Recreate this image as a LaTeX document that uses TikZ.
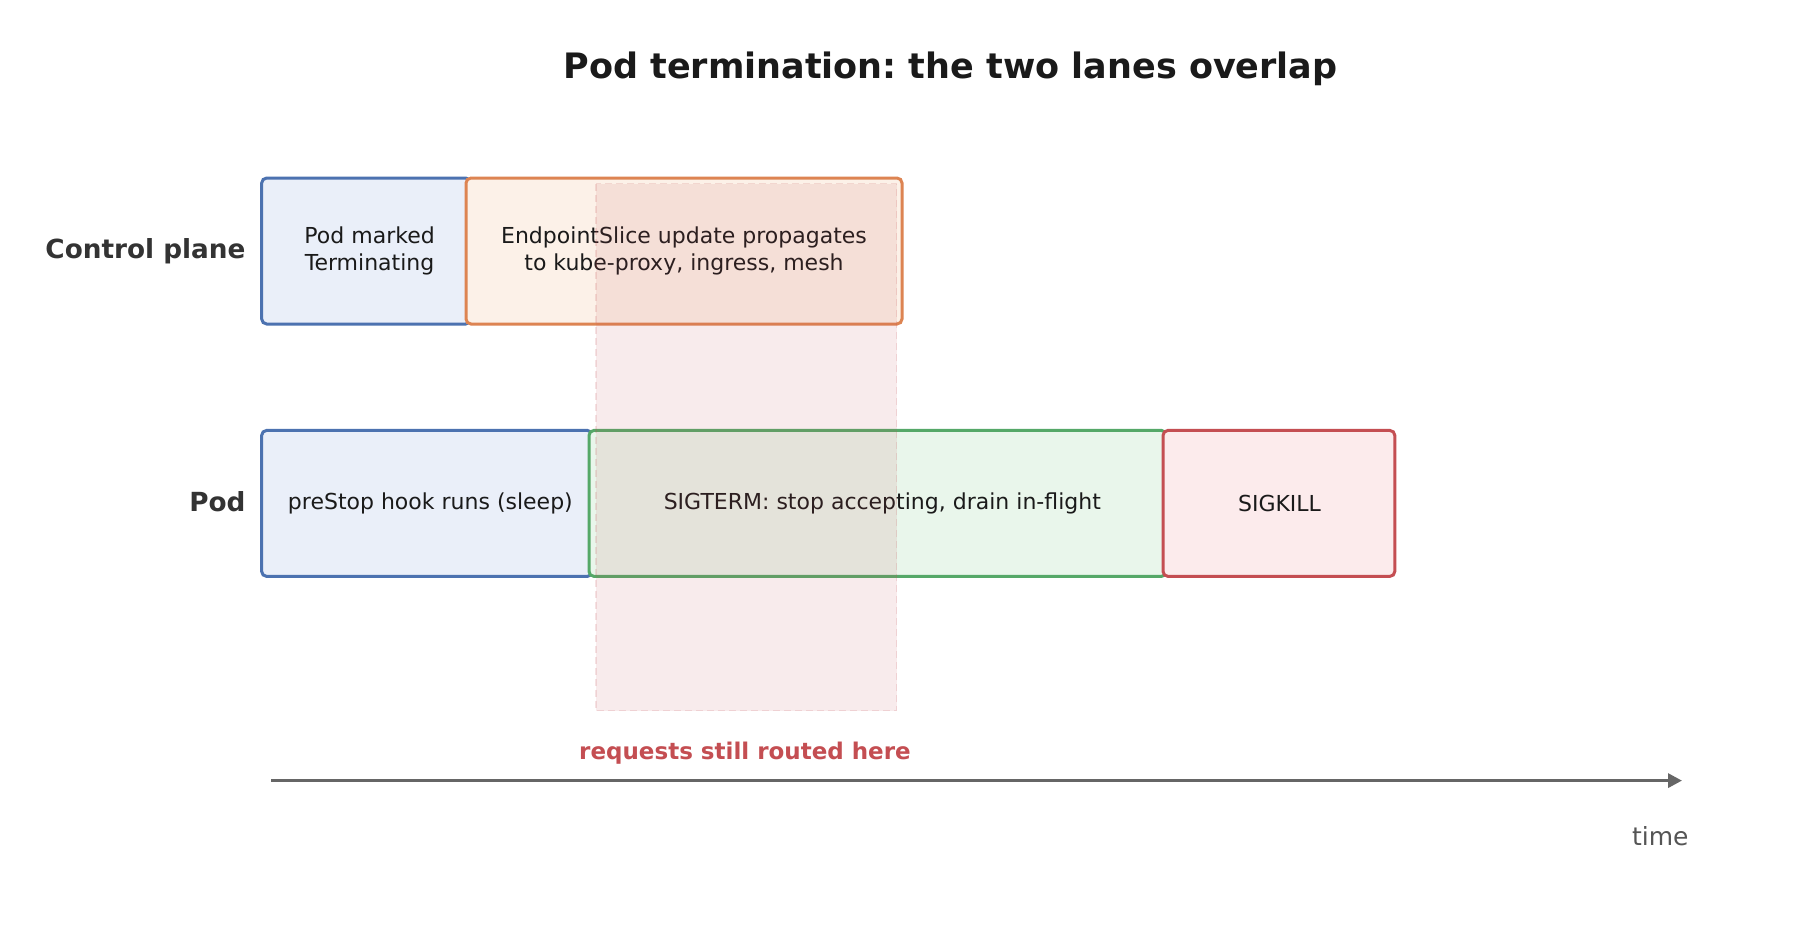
\documentclass[tikz,border=0pt]{standalone}
\usepackage{fontspec}
\setmainfont{DejaVu Sans}
\usetikzlibrary{arrows.meta}
\definecolor{bblue}{HTML}{4C72B0}
\definecolor{fblue}{HTML}{EAEFF9}
\definecolor{borange}{HTML}{DD8452}
\definecolor{forange}{HTML}{FCF1E8}
\definecolor{bgreen}{HTML}{55A868}
\definecolor{fgreen}{HTML}{E9F6EB}
\definecolor{bred}{HTML}{C44E52}
\definecolor{fred}{HTML}{FCEBEC}
\definecolor{txt}{HTML}{1A1A1A}
\definecolor{lbl}{HTML}{333333}
\definecolor{axisgray}{HTML}{666666}
\definecolor{timegray}{HTML}{555555}
\frenchspacing
\tikzset{
  phase/.style={draw, line width=3pt, rounded corners=5pt, inner sep=0pt,
    minimum height=146pt},
  phasetext/.style={align=center, text=txt, inner sep=0pt,
    font=\fontsize{22}{27.7}\selectfont},
  lanelabel/.style={anchor=east, text=lbl, inner sep=0pt,
    font=\fontsize{26.3}{30}\selectfont\bfseries},
  axisline/.style={draw=axisgray, line width=3.2pt,
    -{Triangle[length=14pt,width=14pt]}}
}
\begin{document}
\begin{tikzpicture}[x=1pt,y=-1pt]
\useasboundingbox (0,0) rectangle (1800,930);
\fill[white] (0,0) rectangle (1800,930);

\node[text=txt, font=\fontsize{35}{40}\selectfont\bfseries] (title) at (950.5,68.8) {Pod termination: the two lanes overlap};

\node[lanelabel] (cp) at (245.7,251) {Control plane};
\node[lanelabel] (podl) at (245.7,502) {Pod};

\node[phase, draw=bblue, fill=fblue, minimum width=209pt] (marked) at (366.2,251) {};
\node[phasetext] (markedtxt) at ([xshift=3.4pt]marked.center) {Pod marked\\Terminating};
\node[phase, draw=borange, fill=forange, minimum width=436pt] (eps) at (684,251) {};
\node[phasetext] (epstxt) at (eps.center) {EndpointSlice update propagates\\to kube-proxy, ingress, mesh};

\node[phase, draw=bblue, fill=fblue, minimum width=330.7pt] (prestop) at (427,503.4) {};
\node[phasetext] (prestoptxt) at ([xshift=3.4pt]prestop.center) {preStop hook runs (sleep)};
\node[phase, draw=bgreen, fill=fgreen, minimum width=577.4pt] (sigterm) at (877.7,503.4) {};
\node[phasetext] (sigtermtxt) at ([xshift=4.6pt]sigterm.center) {SIGTERM: stop accepting, drain in-flight};
\node[phase, draw=bred, fill=fred, minimum width=231.8pt] (sigkill) at (1278.9,503.4) {};
\node[phasetext] (sigkilltxt) at ([xshift=0.6pt]sigkill.center) {SIGKILL};

\fill[bred, opacity=0.11] (596,183.7) rectangle (896.6,710.6);
\draw[bred, opacity=0.16, line width=1.5pt, dash pattern=on 7pt off 4pt] (596,183.7) rectangle (896.6,710.6);

\node[text=bred, font=\fontsize{23}{28}\selectfont\bfseries] (routed) at (745,753) {requests still routed here};

\coordinate (tstart) at (271,780.6);
\coordinate (tend) at (1682,780.6);
\draw[axisline] (tstart) -- (tend);
\node[anchor=east, inner sep=0pt, text=timegray, font=\fontsize{25}{30}\selectfont] (time) at (1688.7,835.7) {time};
\end{tikzpicture}
\end{document}
